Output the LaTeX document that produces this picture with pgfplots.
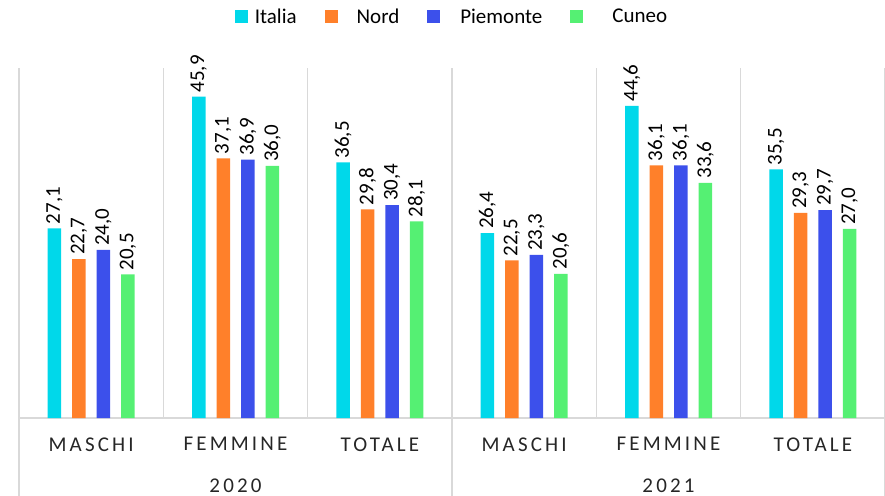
\documentclass[border=0pt]{standalone}
\usepackage{fontspec}
\setmainfont{Carlito}
\usepackage{pgfplots}
\pgfplotsset{compat=1.18}
\definecolor{cIt}{HTML}{00D8EA}
\definecolor{cNo}{HTML}{FF802A}
\definecolor{cPi}{HTML}{3C50EB}
\definecolor{cCu}{HTML}{55F073}
\definecolor{gridgray}{HTML}{D9D9D9}
\newcommand{\labfont}{\fontsize{21bp}{25bp}\selectfont}
\begin{document}
\begin{tikzpicture}
\begin{axis}[
 scale only axis, width=866bp, height=350bp,
 xmin=-0.5, xmax=5.5, ymin=0, ymax=50,
 clip=false,
 ybar=11bp, bar width=13.5bp,
 axis y line=none,
 axis x line*=bottom,
 x axis line style={draw=gridgray, line width=1.5bp, -},
 xtick={0,1,2,3,4,5},
 xticklabels={MASCHI,FEMMINE,TOTALE,MASCHI,FEMMINE,TOTALE},
 xticklabel style={font=\labfont\addfontfeature{LetterSpace=15}, yshift=-16bp, text=black!85},
 major tick length=0pt,
 minor xtick={0.5,1.5,3.5,4.5},
 xminorgrids, minor grid style={draw=gridgray, line width=1.5bp},
 minor tick length=0pt,
 extra x ticks={-0.5,2.5,5.5}, extra x tick labels={},
 extra x tick style={grid=major, major grid style={draw=gridgray, line width=1.5bp},
   major tick length=78bp, tick align=outside, tick style={draw=gridgray, line width=1.5bp}},
 nodes near coords,
 every node near coord/.append style={rotate=90, anchor=west, font=\labfont, text=black, inner sep=4bp},
 /pgf/number format/.cd, fixed, fixed zerofill, precision=1, use comma, assume math mode=true, /pgfplots/.cd,
 legend columns=4,
 legend image code/.code={\fill[#1] (0bp,-6.5bp) rectangle (13bp,6.5bp);},
 legend style={at={(0.50,1.146)}, anchor=center, draw=none, fill=none, font=\labfont,
   /tikz/every even column/.append style={column sep=26bp}},
]
\addplot[fill=cIt, draw=none] coordinates {(0,27.1) (1,45.9) (2,36.5) (3,26.4) (4,44.6) (5,35.5)};
\addplot[fill=cNo, draw=none] coordinates {(0,22.7) (1,37.1) (2,29.8) (3,22.5) (4,36.1) (5,29.3)};
\addplot[fill=cPi, draw=none] coordinates {(0,24.0) (1,36.9) (2,30.4) (3,23.3) (4,36.1) (5,29.7)};
\addplot[fill=cCu, draw=none] coordinates {(0,20.5) (1,36.0) (2,28.1) (3,20.6) (4,33.6) (5,27.0)};
\legend{\hspace{5bp}Italia,\hspace{17bp}Nord,\hspace{18bp}Piemonte,\hspace{27bp}Cuneo}
\node[font=\labfont\addfontfeature{LetterSpace=15}, anchor=base, inner sep=0pt, text=black!85] at (axis cs:1,0) [yshift=-74bp] {2020};
\node[font=\labfont\addfontfeature{LetterSpace=15}, anchor=base, inner sep=0pt, text=black!85] at (axis cs:4,0) [yshift=-74bp] {2021};
\coordinate (bl) at (rel axis cs:0,0);
\end{axis}
\pgfresetboundingbox
\path[use as bounding box] (bl) ++(-19bp,-78bp) rectangle ++(885bp,496bp);
\end{tikzpicture}
\end{document}
